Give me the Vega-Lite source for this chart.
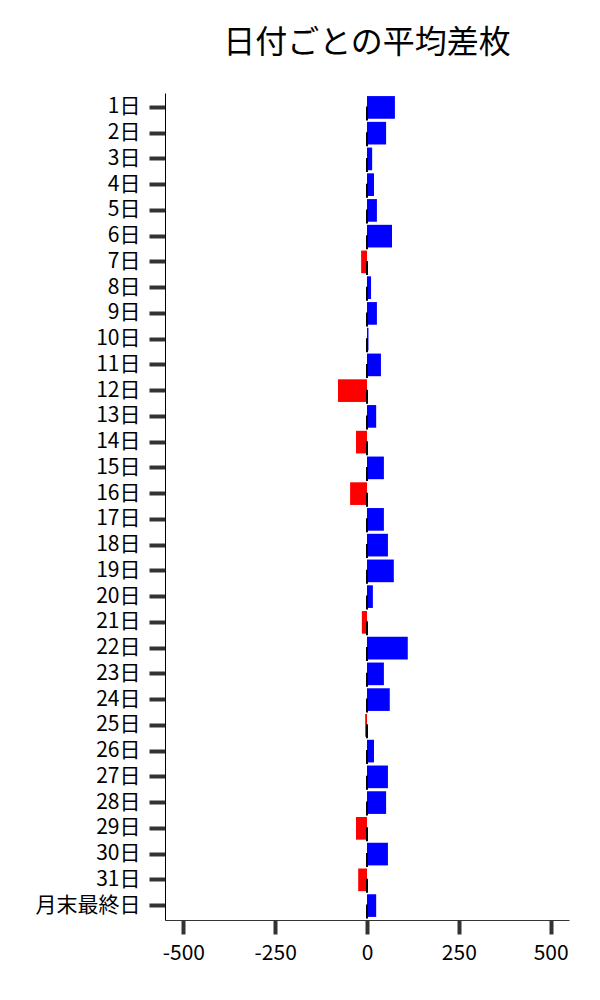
{
  "$schema": "https://vega.github.io/schema/vega-lite/v6.json",
  "autosize": "none",
  "padding": {"left": 165, "top": 93, "right": 31, "bottom": 80},
  "width": 404,
  "height": 827,
  "config": {
    "font": "Noto Sans CJK JP",
    "view": {"stroke": null},
    "axis": {"grid": false}
  },
  "title": {
    "text": "日付ごとの平均差枚",
    "fontSize": 32,
    "fontWeight": "normal",
    "color": "#000",
    "offset": 33,
    "anchor": "middle",
    "font": "Noto Sans CJK JP"
  },
  "data": {
    "values": [
      {"day": "1日", "v": 76},
      {"day": "2日", "v": 52},
      {"day": "3日", "v": 14},
      {"day": "4日", "v": 19},
      {"day": "5日", "v": 27},
      {"day": "6日", "v": 68},
      {"day": "7日", "v": -16},
      {"day": "8日", "v": 11},
      {"day": "9日", "v": 27},
      {"day": "10日", "v": 4},
      {"day": "11日", "v": 38},
      {"day": "12日", "v": -79},
      {"day": "13日", "v": 25},
      {"day": "14日", "v": -30},
      {"day": "15日", "v": 46},
      {"day": "16日", "v": -46},
      {"day": "17日", "v": 46},
      {"day": "18日", "v": 57},
      {"day": "19日", "v": 73},
      {"day": "20日", "v": 16},
      {"day": "21日", "v": -14},
      {"day": "22日", "v": 111},
      {"day": "23日", "v": 46},
      {"day": "24日", "v": 62},
      {"day": "25日", "v": -5},
      {"day": "26日", "v": 19},
      {"day": "27日", "v": 57},
      {"day": "28日", "v": 52},
      {"day": "29日", "v": -30},
      {"day": "30日", "v": 57},
      {"day": "31日", "v": -24},
      {"day": "月末最終日", "v": 25}
    ]
  },
  "encoding": {
    "y": {
      "field": "day",
      "type": "nominal",
      "sort": null,
      "scale": {"paddingInner": 0.12, "paddingOuter": 0.12},
      "axis": {
        "title": null,
        "labelFontSize": 21,
        "labelColor": "#000",
        "labelPadding": 9,
        "tickSize": 16,
        "tickWidth": 4,
        "tickColor": "#333",
        "domainColor": "#000",
        "domainWidth": 1
      }
    }
  },
  "layer": [
    {
      "mark": {"type": "bar"},
      "encoding": {
        "x": {
          "field": "v",
          "type": "quantitative",
          "scale": {"domain": [-550, 550], "nice": false},
          "axis": {
            "title": null,
            "values": [-500, -250, 0, 250, 500],
            "labelExpr": "'' + datum.value",
            "labelFontSize": 21,
            "labelColor": "#000",
            "labelPadding": 8,
            "tickSize": 14,
            "tickWidth": 4,
            "tickColor": "#333",
            "domainColor": "#333",
            "domainWidth": 1
          }
        },
        "color": {
          "condition": {"test": "datum.v < 0", "value": "#ff0000"},
          "value": "#0000ff"
        }
      }
    },
    {
      "mark": {"type": "tick", "color": "#000", "thickness": 2, "size": 14, "yOffset": 6, "opacity": 1},
      "encoding": {
        "x": {"datum": 0, "type": "quantitative"}
      }
    }
  ]
}
